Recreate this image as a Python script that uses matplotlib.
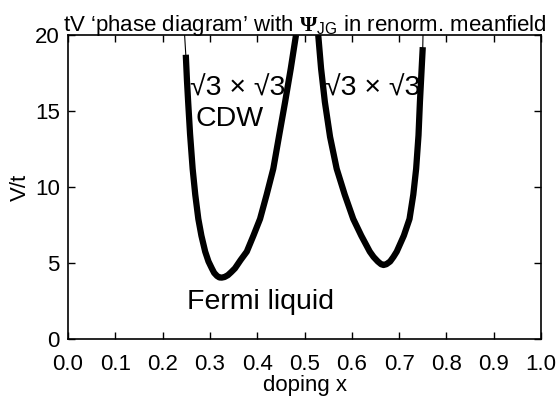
import matplotlib
matplotlib.use("Agg")
import matplotlib.pyplot as plt

plt.rcParams['font.family'] = ['Liberation Sans', 'DejaVu Sans']
plt.rcParams['mathtext.fontset'] = 'custom'
plt.rcParams['mathtext.rm'] = 'Liberation Sans'
plt.rcParams['mathtext.bf'] = 'Liberation Serif:bold'

# left CDW lobe (thick = data, thin = guide line)
x_left = [0.249, 0.2515, 0.254, 0.258, 0.2635, 0.269, 0.2755, 0.282, 0.290, 0.297,
          0.304, 0.309, 0.315, 0.320, 0.325, 0.331, 0.338, 0.345, 0.353, 0.365,
          0.378, 0.392, 0.406, 0.420, 0.434, 0.447, 0.459, 0.471, 0.482]
v_left = [18.7, 17.0, 15.6, 13.5, 11.2, 9.5, 7.9, 6.8, 5.75, 5.1,
          4.65, 4.35, 4.15, 4.05, 4.04, 4.08, 4.2, 4.4, 4.65, 5.2,
          5.75, 6.8, 7.9, 9.5, 11.2, 13.5, 15.6, 17.8, 20.0]
# right CDW lobe
x_right = [0.529, 0.535, 0.543, 0.554, 0.568, 0.585, 0.603, 0.620, 0.638, 0.646,
           0.655, 0.662, 0.667, 0.673, 0.681, 0.688, 0.695, 0.710, 0.722, 0.730,
           0.736, 0.741, 0.744, 0.747, 0.750]
v_right = [20.0, 17.8, 15.6, 13.3, 11.2, 9.5, 7.9, 6.8, 5.75, 5.4,
           5.1, 4.92, 4.87, 4.92, 5.1, 5.4, 5.75, 6.8, 7.9, 9.5,
           11.2, 13.4, 15.6, 17.4, 19.2]
# thin guide line continues to the top of the frame
x_thin_left = [0.2465] + x_left
v_thin_left = [20.0] + v_left
x_thin_right = x_right + [0.7505]
v_thin_right = v_right + [20.0]

fig = plt.figure(figsize=(5.57, 3.98), dpi=100)
ax = fig.add_axes([0.1221, 0.1482, 0.8492, 0.7639])

ax.plot(x_thin_left, v_thin_left, color='black', lw=0.8)
ax.plot(x_thin_right, v_thin_right, color='black', lw=0.8)
ax.plot(x_left, v_left, color='black', lw=4.5, solid_capstyle='butt', solid_joinstyle='round')
ax.plot(x_right, v_right, color='black', lw=4.5, solid_capstyle='butt', solid_joinstyle='round')

ax.text(0.358, 16.5, '\u221a3 \u00d7 \u221a3', fontsize=20.5, ha='center', va='center')
ax.text(0.341, 14.5, 'CDW', fontsize=20.5, ha='center', va='center')
ax.text(0.645, 16.5, '\u221a3 \u00d7 \u221a3', fontsize=20.5, ha='center', va='center')
ax.text(0.408, 2.45, 'Fermi liquid', fontsize=20.5, ha='center', va='center')

ax.set_xlim(0, 1)
ax.set_ylim(0, 20)
ax.set_xticks([i / 10 for i in range(11)])
ax.set_xticklabels(['%.1f' % (i / 10) for i in range(11)])
ax.set_yticks([0, 5, 10, 15, 20])
ax.tick_params(direction='in', top=True, right=True, length=5, width=1, labelsize=16)
ax.tick_params(axis='x', pad=11)
ax.tick_params(axis='y', pad=6)
for s in ax.spines.values():
    s.set_linewidth(1.2)

ax.set_xlabel('doping x', fontsize=16, labelpad=0)
ax.set_ylabel('V/t', fontsize=16, labelpad=3)
ax.set_title('tV \u2018phase diagram\u2019 with $\\mathbf{\\Psi}_{\\mathrm{JG}}$ in renorm. meanfield',
             fontsize=16, pad=3)

fig.savefig('out.png', dpi=100)
